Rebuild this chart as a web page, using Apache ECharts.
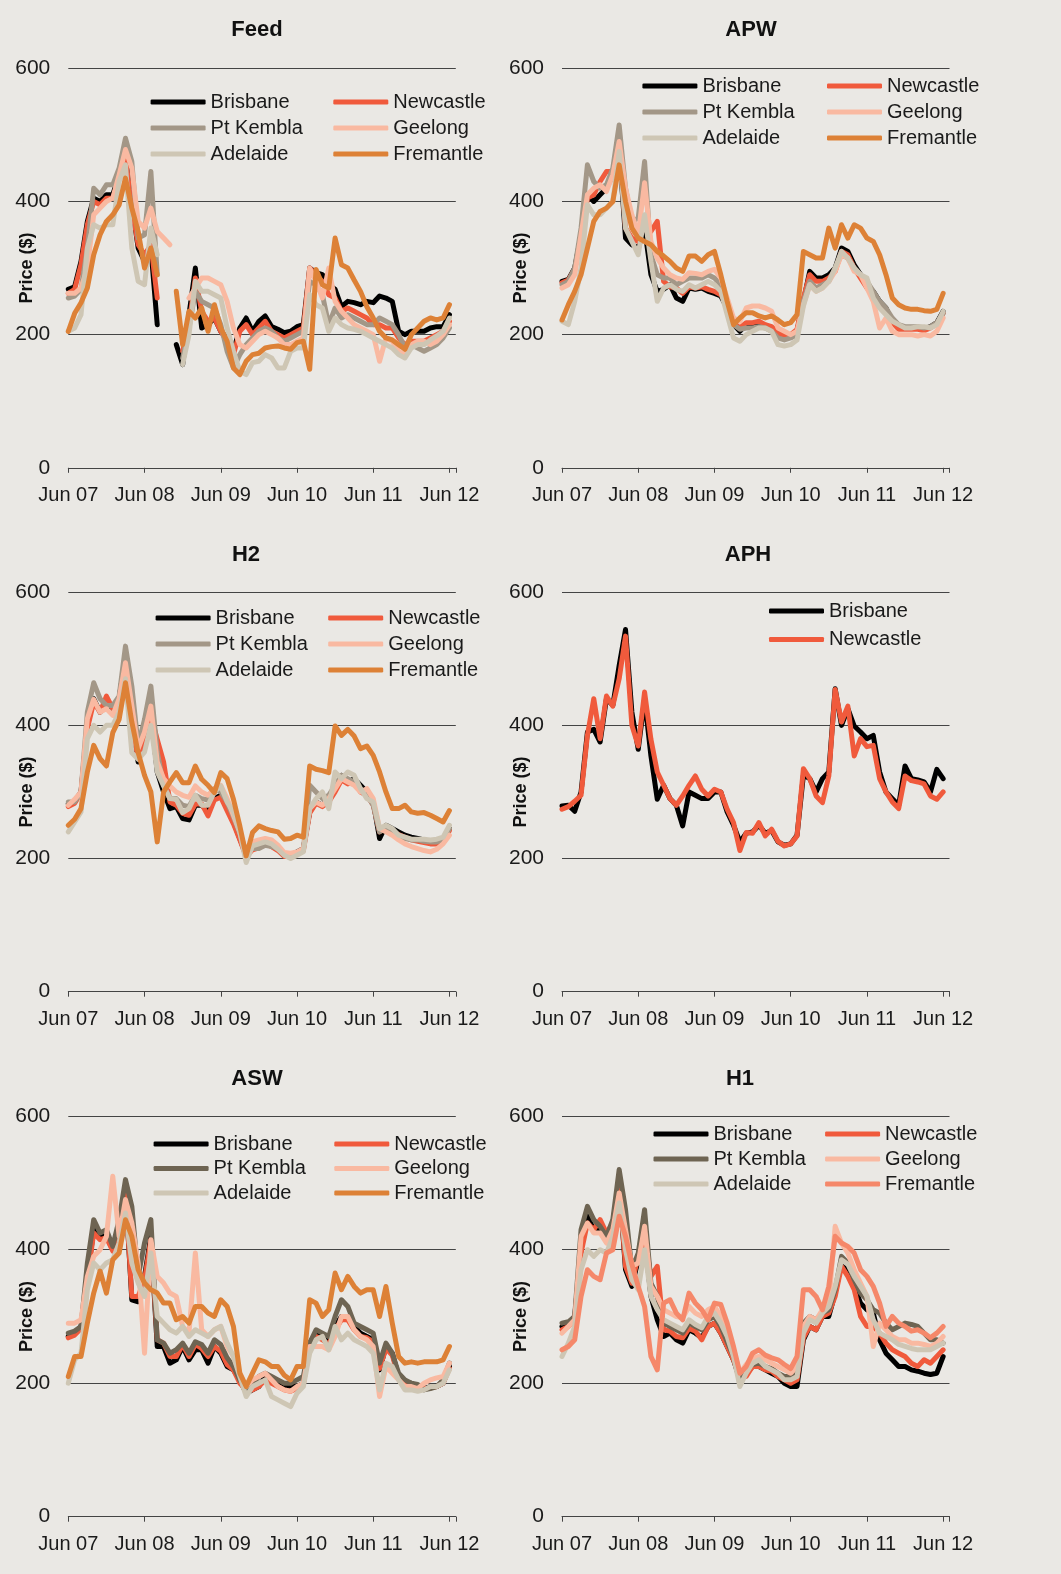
<!DOCTYPE html>
<html><head><meta charset="utf-8">
<script src="https://cdn.jsdelivr.net/npm/echarts@6/dist/echarts.min.js"></script>
<style>html,body{margin:0;padding:0;background:#eae8e4;}#c{width:1061px;height:1574px;}</style>
</head><body><div id="c"></div>
<script>
const xTickLabels = ['Jun 07','Jun 08','Jun 09','Jun 10','Jun 11','Jun 12'];
const panelTitles = ['Feed','APW','H2','APH','ASW','H1'];
const N = null;
// monthly prices, index 0 = Jun 07 ... 60 = Jun 12
const feedBrisbane = [268,272,310,370,405,400,410,410,440,470,395,330,310,330,215,N,N,185,155,230,300,210,215,225,205,195,175,210,225,205,220,228,212,208,203,205,212,215,300,293,290,275,268,242,250,248,245,250,248,258,255,250,205,200,205,205,205,210,212,212,230];
const feedNewcastle = [262,268,305,365,400,395,405,405,435,465,390,335,320,335,255,N,N,N,175,215,285,235,220,225,205,190,170,205,215,200,210,220,205,200,195,200,205,210,300,290,280,260,255,235,240,235,230,225,215,215,210,210,195,185,190,190,190,195,200,205,220];
const feedPtKembla = [255,258,268,330,420,410,425,425,450,495,460,345,350,445,290,N,N,N,165,210,265,250,245,240,215,175,150,170,185,195,205,210,205,195,190,195,200,205,280,275,260,215,240,225,230,225,220,215,215,225,220,215,200,180,185,180,175,180,185,195,210];
const feedGeelong = [262,262,270,300,380,390,400,405,440,478,450,370,360,390,355,345,335,N,N,255,270,285,285,280,275,250,210,185,180,190,200,205,200,195,185,185,190,195,300,280,255,300,250,235,225,215,210,205,200,160,195,190,175,170,185,190,190,185,190,200,215];
const feedAdelaide = [205,210,230,330,365,360,365,365,430,455,330,280,275,360,320,N,N,N,155,200,280,265,265,260,255,210,175,145,140,158,160,170,165,150,150,175,180,180,260,245,240,205,225,215,210,208,205,200,195,190,185,180,170,165,180,185,185,192,198,205,225];
const feedFremantle = [205,232,248,270,320,350,370,380,395,435,390,355,300,330,290,N,N,265,185,235,225,240,205,245,210,190,150,140,160,170,172,180,182,183,180,178,188,190,148,298,275,270,345,305,300,282,265,242,225,205,195,192,185,178,200,210,220,225,222,225,245];

const apwBrisbane = [280,283,300,350,410,400,410,420,440,480,345,335,330,360,290,265,268,275,255,250,270,268,270,265,262,258,240,215,205,215,215,218,212,210,200,195,198,205,250,295,285,285,290,300,330,325,305,290,275,265,250,240,220,210,210,210,210,208,212,218,235];
const apwNewcastle = [278,282,298,345,405,410,430,445,445,485,360,345,340,365,355,370,280,272,270,262,272,270,272,268,265,260,245,218,210,218,218,220,215,212,203,198,200,208,255,290,280,280,285,295,325,320,300,285,270,260,245,235,218,208,208,208,208,206,210,216,232];
const apwPtKembla = [275,280,300,360,455,430,420,425,450,515,420,370,375,460,320,290,285,285,275,280,285,285,285,290,285,275,245,215,208,210,210,212,210,205,195,192,195,200,250,280,270,275,280,300,320,315,300,290,280,265,250,240,225,215,212,212,212,210,212,218,232];
const apwGeelong = [270,275,290,350,410,420,425,415,440,490,420,380,350,428,340,315,300,290,285,283,293,292,290,295,298,285,255,225,220,240,243,243,240,235,210,205,200,205,245,275,265,270,280,295,320,315,295,290,270,250,210,225,205,200,200,200,198,200,198,205,225];
const apwAdelaide = [220,215,250,300,395,380,380,390,400,475,360,340,320,380,310,250,270,275,268,265,275,270,275,280,275,265,230,195,190,200,205,210,210,205,185,183,185,192,243,275,265,270,280,300,325,315,300,290,285,255,240,230,220,215,210,210,212,212,210,215,235];
const apwFremantle = [222,245,265,290,330,370,385,390,400,455,400,360,345,340,335,325,318,310,300,295,318,318,310,320,325,290,250,215,225,233,233,228,225,228,222,215,218,230,325,320,315,315,360,330,365,345,365,360,345,340,320,290,255,245,240,238,238,236,235,238,262];

const h2Brisbane = [282,285,300,400,440,420,430,420,440,505,400,345,390,420,330,300,275,278,260,258,280,280,272,290,295,275,255,230,205,215,218,225,220,215,205,205,210,215,270,285,280,290,305,325,315,320,310,300,285,230,250,245,240,235,232,230,228,226,225,228,245];
const h2Newcastle = [278,283,298,395,435,420,444,425,440,500,400,350,385,415,379,345,285,280,268,265,282,282,264,288,292,272,252,228,203,213,216,222,218,212,203,203,208,212,268,283,278,285,300,318,312,315,300,295,280,240,248,240,236,232,228,226,224,222,222,225,242];
const h2PtKembla = [285,285,300,420,464,440,430,430,444,519,459,370,409,459,360,310,290,290,280,278,295,290,288,305,300,285,262,238,210,215,215,220,218,215,205,205,208,212,310,300,290,295,310,325,320,315,305,295,280,240,245,240,235,230,228,228,226,225,225,228,245];
const h2Geelong = [280,289,300,410,439,420,425,415,440,494,430,365,390,429,345,320,309,300,295,292,309,300,295,305,310,290,265,240,210,225,228,230,228,220,209,208,210,215,275,285,280,290,305,320,315,310,300,305,290,245,240,235,228,222,218,215,212,210,214,222,235];
const h2Adelaide = [240,255,270,380,400,390,400,400,420,470,359,349,360,400,330,309,290,289,269,275,295,280,280,300,309,285,270,239,194,219,222,225,222,214,205,200,205,210,275,290,300,275,330,320,330,325,305,290,285,245,250,245,235,232,229,229,229,228,229,232,250];
const h2Fremantle = [250,259,275,330,370,350,339,389,409,464,405,359,325,300,225,300,315,329,314,314,339,319,310,299,329,320,289,249,204,239,249,245,242,240,229,230,235,232,339,334,332,329,399,385,394,384,365,369,355,330,300,275,275,280,270,268,269,265,260,255,272];

const aphBrisbane = [279,280,271,300,390,394,375,440,430,490,544,420,364,440,354,289,310,290,280,249,300,295,290,290,300,300,270,250,225,238,240,250,238,242,225,220,222,235,325,320,300,320,330,455,400,425,399,390,380,385,330,300,290,280,339,320,318,315,300,334,320];
const aphNewcastle = [274,278,286,295,385,440,380,444,429,470,534,400,369,450,379,330,310,290,280,294,310,324,304,294,304,300,274,254,212,239,238,254,234,244,226,219,222,234,335,320,294,284,324,454,405,429,354,380,368,370,320,300,285,275,324,317,315,312,294,289,300];

const aswBrisbane = [270,275,285,360,430,420,420,400,430,490,325,322,360,420,255,255,230,235,255,235,250,250,230,255,245,225,220,205,185,190,195,210,205,200,195,195,195,200,260,275,270,260,285,300,300,285,275,270,265,220,255,245,210,200,200,195,192,195,195,200,225];
const aswNewcastle = [268,272,282,355,425,415,418,398,428,485,330,330,355,415,265,260,240,240,258,240,258,252,240,255,248,228,220,200,190,190,195,205,200,195,190,188,192,198,258,270,265,258,280,295,295,280,270,268,262,222,252,242,208,200,198,195,192,193,195,200,222];
const aswPtKembla = [275,278,285,380,445,425,430,405,445,505,465,360,410,445,265,260,245,250,260,245,262,258,245,265,258,238,225,205,190,198,210,215,210,205,200,200,205,210,260,280,275,270,300,325,315,290,285,280,275,230,260,245,215,205,200,198,190,192,195,205,230];
const aswGeelong = [290,290,295,360,390,400,420,510,420,475,440,380,245,415,360,350,335,330,285,275,395,280,270,280,285,255,240,215,195,205,210,215,205,195,190,188,195,200,255,255,255,250,270,300,300,280,270,265,255,180,225,215,205,195,195,192,200,205,208,210,230];
const aswAdelaide = [200,235,245,340,380,370,380,385,410,455,380,350,330,395,300,290,280,275,285,270,280,275,270,280,285,260,240,210,180,195,200,205,180,175,170,165,185,195,245,265,270,250,285,265,275,265,260,255,245,190,230,225,205,190,190,188,190,195,195,200,220];
const aswFremantle = [210,240,240,290,335,368,335,385,395,445,420,370,350,340,335,320,320,295,300,290,315,315,305,300,325,315,285,215,195,215,235,232,225,225,212,205,225,225,325,320,300,310,365,340,360,345,335,340,340,300,345,290,240,230,232,230,232,232,232,235,255];

const h1Brisbane = [285,290,300,400,450,430,430,420,440,500,370,345,385,420,330,295,270,275,265,260,280,275,268,285,290,275,255,235,205,215,225,225,220,215,210,200,195,195,265,285,280,300,300,335,380,370,345,320,310,305,265,245,235,225,225,220,218,215,213,215,240];
const h1Newcastle = [280,285,295,395,440,430,445,425,440,495,375,350,390,420,360,375,280,278,270,268,282,278,265,285,290,275,255,235,210,210,225,225,220,218,210,205,200,205,268,285,280,300,305,330,375,360,340,300,285,285,275,260,250,245,240,230,225,235,230,240,250];
const h1PtKembla = [290,292,300,430,465,445,435,420,445,520,460,370,395,460,350,330,290,285,280,275,290,285,280,295,300,285,262,240,210,220,228,230,225,222,215,210,210,215,290,300,295,305,310,340,390,380,355,335,325,310,305,290,280,285,290,288,285,275,265,265,260];
const h1Geelong = [275,285,295,420,440,425,425,410,430,485,430,375,380,435,345,330,310,305,300,298,315,305,300,310,315,300,275,250,215,228,238,240,235,230,225,220,215,225,285,300,295,310,320,435,410,395,370,350,330,255,290,280,270,265,265,260,260,258,255,260,270];
const h1Adelaide = [240,260,285,370,400,390,400,395,420,470,400,355,340,400,330,310,295,290,285,280,295,288,283,300,305,290,270,240,195,215,230,235,225,220,215,205,205,210,275,295,290,305,315,345,385,378,360,345,330,295,275,270,265,258,255,252,250,250,250,255,260];
const h1Fremantle = [250,255,265,330,370,360,355,395,400,450,420,378,345,315,240,220,320,325,305,295,335,320,310,295,320,318,290,255,215,225,245,250,242,238,235,228,222,240,340,340,330,310,345,420,410,405,395,370,360,345,320,285,300,290,285,278,280,275,268,275,285];

// ---------- styling / layout ----------
const FONT = 'Liberation Sans, Arial, sans-serif';
const COL = {Brisbane:'#000000', Newcastle:'#f05a3c', PtK:'#a39787', PtKDark:'#6e6452', Geelong:'#f9b9a1', Adelaide:'#cec6b4', Fremantle:'#dd8136', FremantleH1:'#f5886a'};

const panels = [
  {series:[['Brisbane',feedBrisbane,COL.Brisbane],['Newcastle',feedNewcastle,COL.Newcastle],['Pt Kembla',feedPtKembla,COL.PtK],['Geelong',feedGeelong,COL.Geelong],['Adelaide',feedAdelaide,COL.Adelaide],['Fremantle',feedFremantle,COL.Fremantle]],
   left:68.3, top:68.3, h:399.5, titleX:257, titleY:19, legendTop:92, legendLefts:[150.6,333.3], legendGap:6},
  {series:[['Brisbane',apwBrisbane,COL.Brisbane],['Newcastle',apwNewcastle,COL.Newcastle],['Pt Kembla',apwPtKembla,COL.PtK],['Geelong',apwGeelong,COL.Geelong],['Adelaide',apwAdelaide,COL.Adelaide],['Fremantle',apwFremantle,COL.Fremantle]],
   left:562, top:68.3, h:399.5, titleX:751, titleY:19, legendTop:76, legendLefts:[642.4,827], legendGap:6},
  {series:[['Brisbane',h2Brisbane,COL.Brisbane],['Newcastle',h2Newcastle,COL.Newcastle],['Pt Kembla',h2PtKembla,COL.PtK],['Geelong',h2Geelong,COL.Geelong],['Adelaide',h2Adelaide,COL.Adelaide],['Fremantle',h2Fremantle,COL.Fremantle]],
   left:68.3, top:592.2, h:399.5, titleX:246, titleY:544, legendTop:608, legendLefts:[155.6,328.2], legendGap:6},
  {series:[['Brisbane',aphBrisbane,COL.Brisbane],['Newcastle',aphNewcastle,COL.Newcastle]],
   left:562, top:592.2, h:399.5, titleX:748, titleY:544, legendTop:601, legendLefts:[769], legendGap:8.5},
  {series:[['Brisbane',aswBrisbane,COL.Brisbane],['Newcastle',aswNewcastle,COL.Newcastle],['Pt Kembla',aswPtKembla,COL.PtKDark],['Geelong',aswGeelong,COL.Geelong],['Adelaide',aswAdelaide,COL.Adelaide],['Fremantle',aswFremantle,COL.Fremantle]],
   left:68.3, top:1116.2, h:400.5, titleX:257, titleY:1068, legendTop:1134, legendLefts:[153.6,334.3], legendGap:4.5},
  {series:[['Brisbane',h1Brisbane,COL.Brisbane],['Newcastle',h1Newcastle,COL.Newcastle],['Pt Kembla',h1PtKembla,COL.PtKDark],['Geelong',h1Geelong,COL.Geelong],['Adelaide',h1Adelaide,COL.Adelaide],['Fremantle',h1Fremantle,COL.FremantleH1]],
   left:562, top:1116.2, h:400.5, titleX:740, titleY:1068, legendTop:1124, legendLefts:[653.5,825.1], legendGap:5}
];
const legendCols2 = [['Brisbane','Pt Kembla','Adelaide'],['Newcastle','Geelong','Fremantle']];
const legendCols1 = [['Brisbane','Newcastle']];

const option = {backgroundColor:'#eae8e4', animation:false, textStyle:{fontFamily:FONT},
  title:[], grid:[], xAxis:[], yAxis:[], legend:[], series:[]};

panels.forEach((p, i) => {
  const t = panelTitles[i];
  option.title.push({text:t, left:p.titleX, top:p.titleY, textAlign:'center', padding:0,
    textStyle:{fontSize:22, fontWeight:'bold', color:'#111', fontFamily:FONT}});
  option.grid.push({left:p.left, top:p.top, width:387.5, height:p.h, containLabel:false, outerBoundsMode:'none'});
  option.xAxis.push({gridIndex:i, type:'value', min:0, max:61, interval:12,
    axisLine:{show:true, lineStyle:{color:'#444', width:1}},
    axisTick:{show:true, length:5, lineStyle:{color:'#444'}},
    splitLine:{show:false},
    axisLabel:{fontSize:20, color:'#1a1a1a', margin:18, fontFamily:FONT,
      formatter: v => (v % 12 === 0 ? xTickLabels[v/12] : '')}});
  option.yAxis.push({gridIndex:i, type:'value', min:0, max:600, interval:200,
    axisLine:{show:false}, axisTick:{show:false},
    splitLine:{show:true, lineStyle:{color:'#444', width:1}},
    axisLabel:{fontSize:21, color:'#1a1a1a', margin:18, fontFamily:FONT},
    name:'Price ($)', nameLocation:'middle', nameGap:32, nameMoveOverlap:false,
    nameTextStyle:{fontSize:18, fontWeight:'bold', color:'#111', fontFamily:FONT}});
  p.series.forEach(([name, vals, c]) => {
    option.series.push({type:'line', name:t+'|'+name, xAxisIndex:i, yAxisIndex:i,
      data: vals.map((v,k) => [k, v === null ? '-' : v]),
      showSymbol:false, symbol:'none', color:c, silent:true,
      lineStyle:{width:5, color:c, join:'round', cap:'round'}});
  });
  const cols = p.series.length > 2 ? legendCols2 : legendCols1;
  cols.forEach((names, ci) => {
    option.legend.push({orient:'vertical', left:p.legendLefts[ci], top:p.legendTop, padding:0,
      itemWidth:55, itemHeight:5, itemGap:p.legendGap, icon:'roundRect', selectedMode:false,
      data:names.map(n => t+'|'+n), formatter: n => n.split('|')[1],
      textStyle:{fontSize:20, color:'#1a1a1a', fontFamily:FONT, lineHeight:20}});
  });
});

const chart = echarts.init(document.getElementById('c'), null, {renderer:'canvas'});
chart.setOption(option);
</script></body></html>
